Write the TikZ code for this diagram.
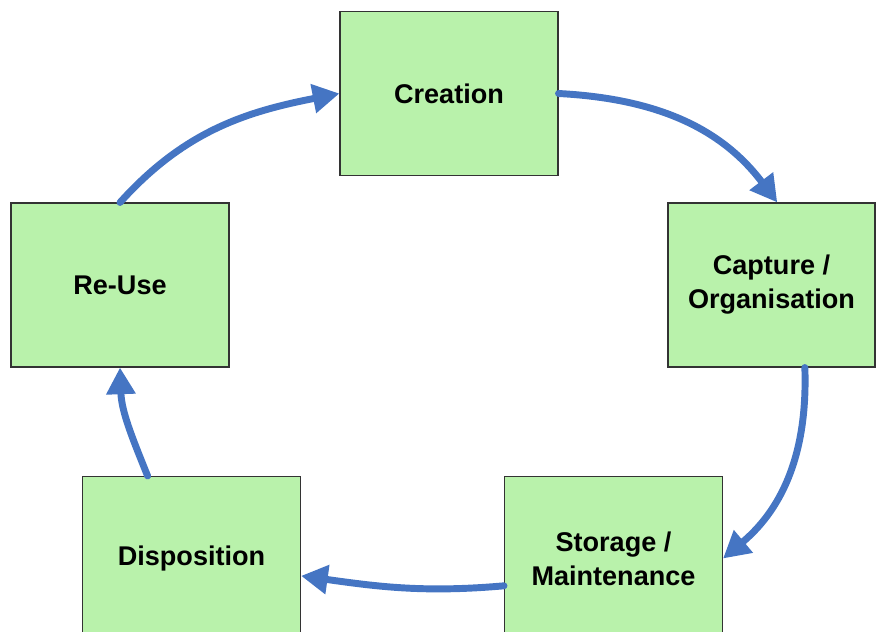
\documentclass[tikz,border=0pt]{standalone}
\usepackage{fontspec}
\setmainfont{Liberation Sans}
\usepackage{tikz}
\usetikzlibrary{arrows.meta}
\definecolor{stagegreen}{HTML}{B9F2AB}
\definecolor{flowblue}{HTML}{4575C3}

\begin{document}
\begin{tikzpicture}[x=0.75pt, y=-0.75pt,
  stage/.style={draw=black!80, line width=0.8pt, fill=stagegreen, inner sep=0pt,
    minimum width=163.5pt, minimum height=123pt, align=center,
    font=\fontsize{20.3}{25.5}\selectfont\bfseries},
  flow/.style={draw=flowblue, line width=5.2pt, line cap=round,
    -{Triangle[length=20pt, width=21pt]}}]
\useasboundingbox (0,0) rectangle (876,632);
\node[stage] (creation) at (449, 93.5) {Creation};
\node[stage, minimum width=155.25pt] (capture) at (771.5, 285) {Capture /\\Organisation};
\node[stage] (storage) at (613.5, 558.5) {Storage /\\Maintenance};
\node[stage] (disposition) at (191.5, 558.5) {Disposition};
\node[stage] (reuse) at (120, 285) {Re-Use};
\path (creation.east) edge [flow, out=-3, in=127] (capture.86);
\path (capture.-68) edge [flow, out=-88, in=40] (storage.east);
\path (storage.194) edge [flow, out=185, in=-8] (disposition.-9);
\path (disposition.118) edge [flow, out=112, in=-88] (reuse.south);
\path (reuse.north) edge [flow, out=48, in=191] (creation.west);
\end{tikzpicture}
\end{document}
